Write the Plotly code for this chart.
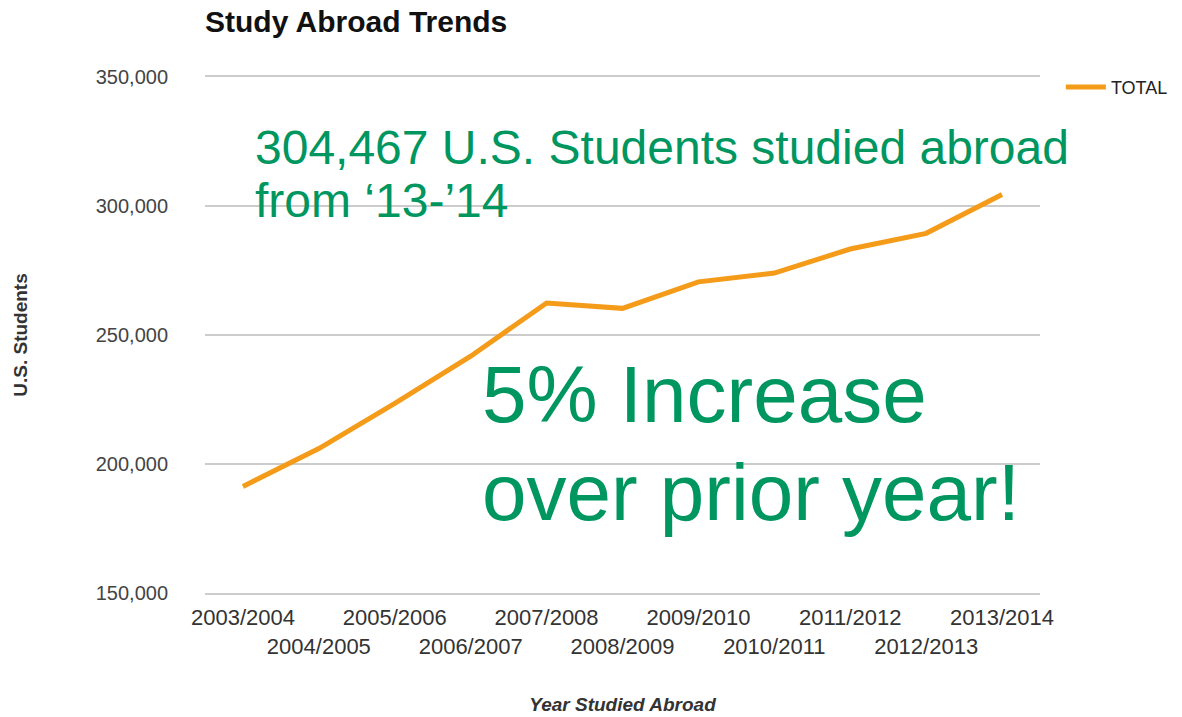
import plotly.graph_objects as go

years = ["2003/2004", "2004/2005", "2005/2006", "2006/2007", "2007/2008", "2008/2009",
         "2009/2010", "2010/2011", "2011/2012", "2012/2013", "2013/2014"]
total = [191321, 205983, 223534, 241791, 262416, 260327, 270604, 273996, 283332, 289408, 304467]
y_ticks = [150000, 200000, 250000, 300000, 350000]
y_ticktext = ["150,000", "200,000", "250,000", "300,000", "350,000"]

GREEN = "#00965F"
ORANGE = "#F59B1A"
FONT = "Liberation Sans, Arial, sans-serif"

tick_text = [y if i % 2 == 0 else "<br>" + y for i, y in enumerate(years)]

fig = go.Figure()
fig.add_trace(go.Scatter(
    x=list(range(len(years))), y=total, mode="lines", name="TOTAL",
    line=dict(color=ORANGE, width=5),
))

fig.update_layout(
    width=1182, height=717,
    margin=dict(l=197, r=150, t=69, b=132, autoexpand=False),
    paper_bgcolor="white", plot_bgcolor="white",
    font=dict(family=FONT, color="#444"),
    title=dict(text="<b>Study Abroad Trends</b>", x=197 / 1182, xanchor="left",
               xref="container", y=1 - 3 / 717, yanchor="top", yref="container",
               pad=dict(t=0, b=0, l=0, r=0),
               font=dict(size=30, color="#111", family=FONT)),
    showlegend=True,
    legend=dict(x=1.025, y=1.016, xanchor="left", yanchor="top",
                font=dict(size=18, color="#222", family=FONT),
                bgcolor="rgba(0,0,0,0)", itemwidth=40),
    xaxis=dict(
        range=[-0.5, 10.5], tickmode="array",
        tickvals=list(range(len(years))), ticktext=tick_text, tickangle=0,
        automargin=False, ticklabelstandoff=4,
        showgrid=False, zeroline=False, showline=True, mirror=True,
        linecolor="#cccccc", linewidth=2, ticks="",
        tickfont=dict(size=22, color="#333", family=FONT),
        title=dict(text="<b><i>Year Studied Abroad</i></b>", standoff=40,
                   font=dict(size=19, color="#333", family=FONT)),
    ),
    yaxis=dict(
        range=[150000, 350000], tickmode="array", tickvals=y_ticks, ticktext=y_ticktext,
        automargin=False,
        showgrid=True, gridcolor="#cccccc", gridwidth=2, zeroline=False, showline=False,
        ticks="", ticklabelstandoff=36,
        tickfont=dict(size=20, color="#444", family=FONT),
        title=dict(text="<b>U.S. Students</b>", standoff=63,
                   font=dict(size=19, color="#333", family=FONT)),
    ),
)

annots = [
    ("304,467 U.S. Students studied abroad", 0.13, 322500, 48),
    ("from \u201813-\u201914", 0.13, 302200, 48),
    ("5% Increase", 3.12, 226800, 80),
    ("over prior year!", 3.12, 189000, 80),
]
for text, x, y, size in annots:
    fig.add_annotation(x=x, y=y, xref="x", yref="y", text=text, showarrow=False,
                       xanchor="left", yanchor="middle",
                       font=dict(size=size, color=GREEN, family=FONT))

fig.write_html("out.html")
